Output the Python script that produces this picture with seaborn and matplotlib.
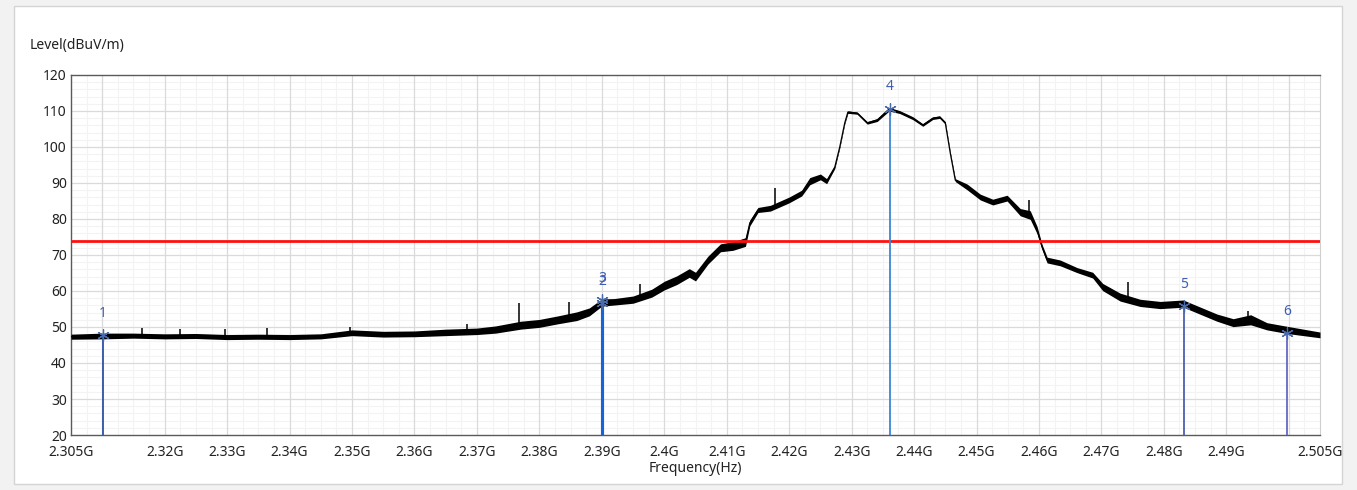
import numpy as np
import pandas as pd
import matplotlib
matplotlib.use("Agg")
import matplotlib.pyplot as plt
import seaborn as sns
from matplotlib.patches import Rectangle
from matplotlib.ticker import FixedLocator, MultipleLocator

# =========================
# DATA
# =========================
trace_freq = [2.305, 2.310, 2.315, 2.320, 2.325, 2.330, 2.335, 2.340, 2.345, 2.350,
              2.355, 2.360, 2.365, 2.370, 2.373, 2.377, 2.380, 2.383, 2.386, 2.388,
              2.390, 2.392, 2.395, 2.398, 2.400, 2.402, 2.404, 2.405, 2.407, 2.409,
              2.411, 2.413, 2.4137, 2.415, 2.417, 2.420, 2.422, 2.4233, 2.425, 2.426,
              2.4273, 2.4281, 2.4289, 2.4294, 2.4309, 2.4325, 2.4341, 2.436, 2.4377, 2.4398,
              2.4414, 2.443, 2.4441, 2.445, 2.4458, 2.4466, 2.4485, 2.4506, 2.4526, 2.4549,
              2.457, 2.4586, 2.4597, 2.4605, 2.4613, 2.4634, 2.4661, 2.4686, 2.4702, 2.473,
              2.4762, 2.4794, 2.4831, 2.4885, 2.4911, 2.4939, 2.4965, 2.4997, 2.505]
trace_level = [47.3, 47.5, 47.6, 47.4, 47.5, 47.2, 47.3, 47.2, 47.4, 48.4,
               48.0, 48.1, 48.5, 48.8, 49.3, 50.5, 51.0, 52.0, 53.0, 54.2,
               56.8, 57.0, 57.6, 59.4, 61.5, 63.0, 65.0, 64.0, 68.6, 72.0,
               72.5, 73.6, 78.9, 82.5, 83.0, 85.3, 87.2, 90.5, 91.7, 90.5,
               94.4, 100.0, 106.7, 109.7, 109.4, 106.7, 107.5, 110.5, 109.7, 108.0,
               106.1, 108.0, 108.3, 106.7, 98.3, 90.8, 88.9, 86.1, 84.7, 85.8,
               81.9, 81.1, 76.9, 72.2, 68.6, 67.8, 65.8, 64.4, 61.1, 58.3,
               56.7, 56.1, 56.5, 52.6, 51.2, 52.0, 50.2, 49.2, 47.8]
# half width of the noise band around the trace
trace_noise = [0.7, 0.8, 0.7, 0.7, 0.7, 0.7, 0.7, 0.7, 0.7, 0.8,
               0.8, 0.8, 0.9, 0.9, 1.0, 1.1, 1.1, 1.1, 1.2, 1.1,
               1.0, 0.9, 1.0, 1.1, 1.2, 1.2, 1.2, 1.2, 1.1, 1.1,
               1.2, 1.2, 0.8, 0.7, 0.8, 0.8, 0.8, 1.0, 0.8, 0.7,
               0.4, 0.3, 0.3, 0.35, 0.3, 0.35, 0.4, 0.5, 0.4, 0.4,
               0.35, 0.35, 0.35, 0.35, 0.3, 0.4, 0.8, 0.8, 0.8, 0.8,
               1.0, 1.2, 1.0, 0.7, 0.8, 0.8, 0.7, 0.8, 1.0, 1.1,
               1.0, 1.0, 1.0, 1.0, 1.1, 1.4, 1.0, 1.0, 0.8]

spike_freq = [2.3164, 2.3225, 2.3297, 2.3364, 2.3497, 2.3684, 2.3767, 2.3847, 2.3961,
              2.4177, 2.4584, 2.4743, 2.4935]
spike_top = [49.7, 49.4, 49.5, 49.8, 50.0, 50.8, 56.7, 57.0, 62.0,
             88.6, 85.3, 62.5, 54.5]

marker_freq = [2.3101, 2.3900, 2.3900, 2.4361, 2.4832, 2.4997]
marker_level = [47.8, 56.6, 57.4, 110.6, 55.8, 48.2]
marker_label = ["1", "2", "3", "4", "5", "6"]
marker_color = ["#2b55a8", "#1565d8", "#1565d8", "#3b86d6", "#4a5fb0", "#6668c8"]

limit_level = 74

tick_freq = [2.305, 2.32, 2.33, 2.34, 2.35, 2.36, 2.37, 2.38, 2.39, 2.40,
             2.41, 2.42, 2.43, 2.44, 2.45, 2.46, 2.47, 2.48, 2.49, 2.505]
tick_label = ["2.305G", "2.32G", "2.33G", "2.34G", "2.35G", "2.36G", "2.37G", "2.38G",
              "2.39G", "2.4G", "2.41G", "2.42G", "2.43G", "2.44G", "2.45G", "2.46G",
              "2.47G", "2.48G", "2.49G", "2.505G"]
grid_freq = [2.31, 2.32, 2.33, 2.34, 2.35, 2.36, 2.37, 2.38, 2.39, 2.40,
             2.41, 2.42, 2.43, 2.44, 2.45, 2.46, 2.47, 2.48, 2.49, 2.50]

# =========================
# STYLE
# =========================
sns.set_style("white")
plt.rcParams["font.family"] = ["Noto Sans", "DejaVu Sans"]
plt.rcParams["font.size"] = 10

fig = plt.figure(figsize=(13.57, 4.90), dpi=100, facecolor="#f2f2f2")
fig.patches.append(Rectangle((14 / 1357, 6 / 490), 1328 / 1357, 478 / 490,
                             transform=fig.transFigure, facecolor="white",
                             edgecolor="#d4d4d4", linewidth=1.0, zorder=-10))
ax = fig.add_axes([71 / 1357, 55 / 490, 1249 / 1357, 360 / 490])
ax.set_facecolor("white")

# =========================
# TRACE
# =========================
df = pd.DataFrame({"freq": trace_freq, "level": trace_level, "noise": trace_noise})
ax.fill_between(df["freq"], df["level"] - df["noise"], df["level"] + df["noise"],
                color="black", linewidth=0, zorder=3)
sns.lineplot(data=df, x="freq", y="level", color="black", linewidth=0.9, ax=ax, zorder=3)
spike_base = np.interp(spike_freq, trace_freq, trace_level)
ax.vlines(spike_freq, spike_base, spike_top, color="black", linewidth=1.1, zorder=3)

# limit line
ax.axhline(limit_level, color="#ff1010", linewidth=2.0, zorder=4)

# markers
mk = pd.DataFrame({"freq": marker_freq, "level": marker_level,
                   "label": marker_label, "color": marker_color})
for _, r in mk.iterrows():
    lw = 2.2 if r["label"] in ("2", "3") else 1.3
    ax.vlines(r["freq"], 20, r["level"], color=r["color"], linewidth=lw, zorder=5)
    ax.text(r["freq"], r["level"] + 4.0, r["label"], color="#3d5fb5",
            ha="center", va="bottom", fontsize=10, zorder=6)
sns.scatterplot(data=mk, x="freq", y="level", marker=(6, 2, 0), s=70,
                color="#4a6aa8", linewidth=0.9, ax=ax, zorder=6, legend=False)

# =========================
# AXES
# =========================
ax.set_xlim(2.305, 2.505)
ax.set_ylim(20, 120)
ax.xaxis.set_major_locator(FixedLocator(tick_freq))
ax.set_xticklabels(tick_label)
ax.yaxis.set_major_locator(MultipleLocator(10))
ax.yaxis.set_minor_locator(MultipleLocator(2))
ax.xaxis.set_minor_locator(MultipleLocator(0.0025))
ax.tick_params(axis="both", which="both", length=0, labelsize=10, colors="#222222")
ax.tick_params(axis="x", pad=7)
ax.tick_params(axis="y", pad=3)

ax.grid(False)
ax.grid(which="minor", color="#f3f3f3", linewidth=0.8, zorder=0)
for g in grid_freq:
    ax.axvline(g, color="#dadada", linewidth=0.9, zorder=1)
for lv in range(30, 120, 10):
    ax.axhline(lv, color="#dadada", linewidth=0.9, zorder=1)

for side in ["left", "bottom", "top"]:
    ax.spines[side].set_color("#5a5a5a")
    ax.spines[side].set_linewidth(1.0)
ax.spines["right"].set_color("#cfcfcf")

ax.set_xlabel("Frequency(Hz)", fontsize=10, labelpad=1, color="#222222")
ax.set_ylabel("")
fig.text(30 / 1357, 1 - 45 / 490, "Level(dBuV/m)", fontsize=10, color="#222222",
         ha="left", va="center")

plt.savefig("out.png", dpi=100, facecolor=fig.get_facecolor())
plt.close()
